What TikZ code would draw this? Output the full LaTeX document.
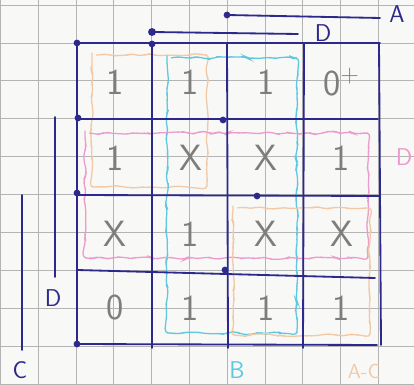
\documentclass[tikz,border=0pt]{standalone}
\usepackage{xcolor}
\definecolor{inkblue}{RGB}{45,40,140}
\definecolor{pencil}{RGB}{125,125,125}
\definecolor{paper}{RGB}{248,248,246}
\definecolor{gridgray}{RGB}{180,180,180}
\definecolor{loopcyan}{RGB}{95,200,225}
\definecolor{looppink}{RGB}{235,155,205}
\definecolor{looporange}{RGB}{242,200,165}
\usepackage{tikz}
\usetikzlibrary{positioning,decorations.pathmorphing,calc}

\tikzset{
  kline/.style={inkblue, line width=1.3pt, line cap=round},
  entry/.style={pencil, font=\fontsize{26}{28}\selectfont\sffamily},
  grouploop/.style={line width=0.9pt, rounded corners=3pt, decorate,
    decoration={random steps, segment length=4pt, amplitude=1.1pt}},
  varlabel/.style={inkblue, font=\LARGE\sffamily},
}

\begin{document}
\begin{tikzpicture}[x=0.025cm, y=-0.025cm]
% squared paper
\fill[paper] (0,0) rectangle (414,385);
\useasboundingbox (0,0) rectangle (414,385);
\foreach \i in {0,...,10} {
    \draw[gridgray, line width=0.5pt] (0.3+\i*37.8,0) -- (0.3+\i*37.8,385);
    \draw[gridgray, line width=0.5pt] (0,5+\i*37.9) -- (414,5+\i*37.9);
}

% Groups (coloured loops)
\draw[grouploop, looporange] (92,55) -- (207,55) -- (207,187) -- (92,187) -- cycle;
\draw[grouploop, loopcyan] (167,58) -- (297,58) -- (297,333) -- (167,333) -- cycle;
\draw[grouploop, looppink] (85,133) -- (368,133) -- (368,258) -- (85,258) -- cycle;
\draw[grouploop, looporange] (233,208) -- (370,208) -- (370,335) -- (233,335) -- cycle;

% Cell entries (pencil)
\foreach \v [count=\c] in {1,1,1,0\textsuperscript{+}}
    \node[entry] (m1\c) at (39.5+\c*75.5,82) {\v};
\foreach \v [count=\c] in {1,X,X,1}
    \node[entry] (m2\c) at (39.5+\c*75.5,158) {\v};
\foreach \v [count=\c] in {X,1,X,X}
    \node[entry] (m3\c) at (39.5+\c*75.5,234) {\v};
\foreach \v [count=\c] in {0,1,1,1}
    \node[entry] (m4\c) at (39.5+\c*75.5,308) {\v};

% Map lines
\draw[kline] (77,43) -- (380,43);
\draw[kline] (78,119) -- (378,119);
\draw[kline] (77,195) -- (380,196);
\draw[kline] (77,270) -- (375,278);
\draw[kline] (77,344) -- (377,345);
\draw[kline] (77,43) -- (77,344);
\draw[kline] (152,43) -- (152,348);
\draw[kline] (227,43) -- (228,348);
\draw[kline] (304,44) -- (303,348);
\draw[kline] (379,43) -- (381,345);
\foreach \p in {(77,43),(152,44),(78,118),(223,120),(77,193),(257,196),(225,270),(77,344)}
    \fill[inkblue] \p circle[radius=2.4pt];

% Variable bars
\coordinate (Astart) at (227,15);
\coordinate (Aend) at (380,18);
\node[varlabel] (lblA) at (397,14) {A};
\draw[kline] (Astart) -- (Aend);
\fill[inkblue] (Astart) circle[radius=2.4pt];

\coordinate (Dstart) at (152,32);
\coordinate (Dend) at (298,34);
\node[varlabel] (lblDtop) at (323,33) {D};
\draw[kline] (Dstart) -- (Dend);
\fill[inkblue] (Dstart) circle[radius=2.8pt];

\coordinate (DLstart) at (55,117);
\coordinate (DLend) at (55,277);
\node[varlabel] (lblDleft) at (53,298) {D};
\draw[kline] (DLstart) -- (DLend);

\coordinate (Cstart) at (22,195);
\coordinate (Cend) at (22,350);
\node[varlabel] (lblC) at (20,370) {C};
\draw[kline] (Cstart) -- (Cend);

% Group labels
\node[loopcyan, font=\LARGE\sffamily] (lblB) at (237,370) {B};
\node[looporange, font=\Large\sffamily] (lblAC) at (364,371) {A-C};
\node[looppink, font=\LARGE\sffamily] (lblDpink) at (404,157) {D};
\end{tikzpicture}
\end{document}
